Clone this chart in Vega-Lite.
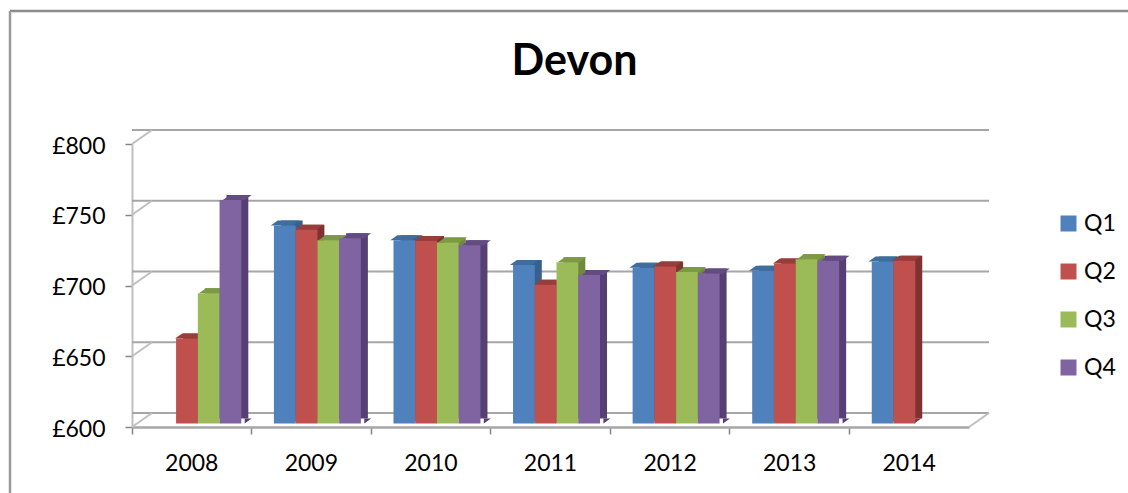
{"$schema":"https://vega.github.io/schema/vega-lite/v6.json","width":837,"height":283,"padding":{"left":132,"top":144,"right":159,"bottom":66},"autosize":{"type":"none"},"background":"white","title":{"text":"Devon","fontSize":43,"font":"Lato","fontWeight":"bold","color":"#000000","anchor":"middle","offset":-74,"dx":24},
"datasets":{"bars":[{"y":"2008","q":"Q2","v":660},{"y":"2008","q":"Q3","v":692},{"y":"2008","q":"Q4","v":758},{"y":"2009","q":"Q1","v":740},{"y":"2009","q":"Q2","v":737},{"y":"2009","q":"Q3","v":729.5},{"y":"2009","q":"Q4","v":731},{"y":"2010","q":"Q1","v":729.5},{"y":"2010","q":"Q2","v":729},{"y":"2010","q":"Q3","v":728},{"y":"2010","q":"Q4","v":726},{"y":"2011","q":"Q1","v":712},{"y":"2011","q":"Q2","v":698},{"y":"2011","q":"Q3","v":714},{"y":"2011","q":"Q4","v":705},{"y":"2012","q":"Q1","v":710},{"y":"2012","q":"Q2","v":711},{"y":"2012","q":"Q3","v":707},{"y":"2012","q":"Q4","v":706},{"y":"2013","q":"Q1","v":708},{"y":"2013","q":"Q2","v":713},{"y":"2013","q":"Q3","v":716},{"y":"2013","q":"Q4","v":715},{"y":"2014","q":"Q1","v":714.5},{"y":"2014","q":"Q2","v":715}],"levels":[{"level":600},{"level":650},{"level":700},{"level":750},{"level":800}]},
"layer":[
{"data":{"name":"levels"},"mark":{"type":"rule","xOffset":20,"yOffset":-14,"color":"#A6A6A6","strokeWidth":2},"encoding":{"y":{"field":"level","type":"quantitative","scale":{"domain":[600,800],"nice":false},"title":null,"axis":{"values":[600,650,700,750,800],"labelExpr":"'£' + datum.value","labelFontSize":23,"labelFont":"Lato","labelColor":"#000","domainColor":"#BFBFBF","domainWidth":2,"tickColor":"#868686","tickWidth":1.5,"tickSize":7,"labelPadding":20,"labelOffset":2,"grid":false}}}},
{"data":{"name":"levels"},"mark":{"type":"point","shape":"M0,0L20,-14","size":4,"filled":false,"color":"#BFBFBF","strokeWidth":2,"opacity":1},"encoding":{"x":{"value":0},"y":{"field":"level","type":"quantitative"}}},
{"data":{"values":[{"level":600}]},"mark":{"type":"point","shape":"M0,0L20,-14","size":4,"filled":false,"color":"#BFBFBF","strokeWidth":2,"opacity":1},"encoding":{"x":{"value":837},"y":{"field":"level","type":"quantitative"}}},
{"data":{"values":[{"f":1}]},"mark":{"type":"rule","color":"#8C8C8C","strokeWidth":2.5},"encoding":{"x":{"value":-122},"x2":{"value":996},"y":{"value":-133}}},
{"data":{"values":[{"f":1}]},"mark":{"type":"rule","color":"#9A9A9A","strokeWidth":2.5},"encoding":{"x":{"value":-122},"y":{"value":-133},"y2":{"value":349}}},
{"data":{"name":"bars"},"mark":{"type":"bar","yOffset":-8.5,"y2Offset":-8.5},"encoding":{"x":{"field":"y","type":"nominal","title":null,"scale":{"paddingOuter":0,"paddingInner":0},"axis":{"labelAngle":0,"labelFontSize":23,"labelFont":"Lato","labelColor":"#000","domainColor":"#A6A6A6","domainWidth":2.5,"tickColor":"#868686","tickWidth":1.5,"tickSize":7,"labelPadding":18,"bandPosition":0,"grid":false}},"xOffset":{"field":"q","type":"nominal","scale":{"domain":["Q1","Q2","Q3","Q4"],"paddingInner":0,"paddingOuter":0.75,"align":0.9}},"y":{"field":"v","type":"quantitative"},"y2":{"datum":600},"color":{"field":"q","type":"nominal","scale":{"domain":["Q1","Q2","Q3","Q4"],"range":["#38608F","#7F3331","#71893F","#563F73"]},"legend":null}}},
{"data":{"name":"bars"},"mark":{"type":"point","shape":"M10.9,0L17.9,-5L10.9,-5Z","size":4,"filled":true,"strokeWidth":0,"opacity":1,"yOffset":-3.5},"encoding":{"x":{"field":"y","type":"nominal"},"xOffset":{"field":"q","type":"nominal","scale":{"type":"point","domain":["Q1","Q2","Q3","Q4"],"padding":1.25,"align":0.628}},"y":{"datum":600,"type":"quantitative"},"color":{"field":"q","type":"nominal","scale":{"domain":["Q1","Q2","Q3","Q4"],"range":["#38608F","#7F3331","#71893F","#563F73"]},"legend":null}}},
{"data":{"name":"bars"},"mark":{"type":"point","shape":"M-10.9,0L10.9,0L17.9,-5L-3.9,-5Z","size":4,"filled":true,"strokeWidth":0,"opacity":1,"yOffset":-3.5},"encoding":{"x":{"field":"y","type":"nominal"},"xOffset":{"field":"q","type":"nominal","scale":{"type":"point","domain":["Q1","Q2","Q3","Q4"],"padding":1.25,"align":0.628}},"y":{"field":"v","type":"quantitative"},"color":{"field":"q","type":"nominal","scale":{"domain":["Q1","Q2","Q3","Q4"],"range":["#3F6D9E","#973E3B","#7C9A44","#644C82"]},"legend":null}}},
{"data":{"name":"bars"},"mark":{"type":"bar","yOffset":-3.5,"y2Offset":-3.5},"encoding":{"x":{"field":"y","type":"nominal"},"xOffset":{"field":"q","type":"nominal","scale":{"domain":["Q1","Q2","Q3","Q4"],"paddingInner":0,"paddingOuter":0.75,"align":0.685}},"y":{"field":"v","type":"quantitative"},"y2":{"datum":600},"color":{"field":"q","type":"nominal","title":null,"scale":{"domain":["Q1","Q2","Q3","Q4"],"range":["#4F81BD","#C0504D","#9BBB59","#8064A2"]},"legend":{"orient":"none","legendX":925,"legendY":68,"labelFontSize":23,"labelFont":"Lato","labelColor":"#000","symbolType":"square","symbolSize":256,"rowPadding":24,"symbolStrokeWidth":0,"labelOffset":4,"title":null}}}}
],
"resolve":{"scale":{"color":"independent","xOffset":"independent"}},
"config":{"view":{"stroke":null}}}
